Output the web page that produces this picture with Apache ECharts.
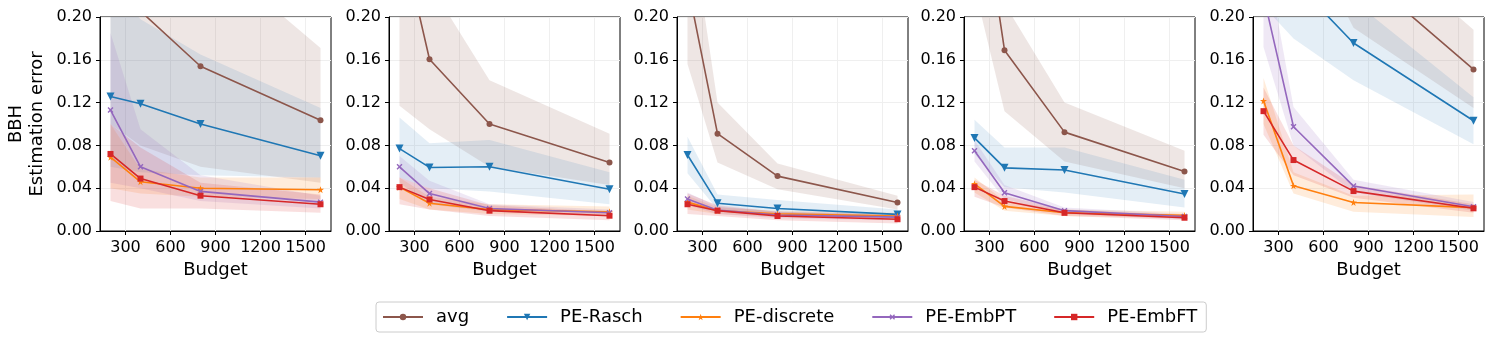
<!DOCTYPE html>
<html lang="en">
<head>
<meta charset="UTF-8">
<title>BBH estimation error vs budget</title>
<script src="https://cdn.jsdelivr.net/npm/echarts@6/dist/echarts.min.js"></script>
<style>
  html, body { margin: 0; padding: 0; background: #fff; }
  #chart { width: 1494px; height: 345px; }
</style>
</head>
<body>
<div id="chart"></div>
<script>
// budgets on the x axis, same for every panel
var budgets = [200, 400, 800, 1600];
var xTicks = [300, 600, 900, 1200, 1500];

// one row per panel (5 panels), one value per budget
var avgMean = [[0.26, 0.2055, 0.154, 0.1036], [0.282, 0.1605, 0.100, 0.064], [0.231, 0.091, 0.0513, 0.0267], [0.357, 0.169, 0.0924, 0.0557], [0.33, 0.29, 0.2475, 0.151]];
var avgLo   = [[0.10, 0.08, 0.06, 0.045], [0.117, 0.095, 0.060, 0.043], [0.156, 0.064, 0.039, 0.020], [0.228, 0.112, 0.065, 0.040], [0.38, 0.30, 0.19, 0.115]];
var avgHi   = [[0.38, 0.33, 0.266, 0.171], [0.45, 0.231, 0.141, 0.091], [0.31, 0.12, 0.063, 0.033], [0.45, 0.2125, 0.12, 0.075], [0.45, 0.40, 0.286, 0.188]];

var raschMean = [[0.1257, 0.119, 0.100, 0.0703], [0.077, 0.0594, 0.060, 0.039], [0.071, 0.026, 0.021, 0.0155], [0.087, 0.059, 0.057, 0.0345], [0.28, 0.234, 0.1757, 0.103]];
var raschLo   = [[0.06, 0.055, 0.052, 0.05], [0.05, 0.04, 0.037, 0.025], [0.054, 0.020, 0.017, 0.012], [0.072, 0.041, 0.036, 0.022], [0.21, 0.18, 0.141, 0.081]];
var raschHi   = [[0.23, 0.198, 0.165, 0.115], [0.106, 0.082, 0.085, 0.055], [0.088, 0.034, 0.029, 0.020], [0.104, 0.078, 0.078, 0.048], [0.33, 0.29, 0.215, 0.125]];

var discMean = [[0.069, 0.046, 0.040, 0.0386], [0.041, 0.026, 0.020, 0.018], [0.027, 0.019, 0.016, 0.014], [0.044, 0.023, 0.017, 0.0146], [0.1216, 0.0423, 0.0267, 0.0218]];
var discLo   = [[0.04, 0.035, 0.032, 0.03], [0.03, 0.02, 0.016, 0.014], [0.02, 0.016, 0.013, 0.011], [0.036, 0.019, 0.014, 0.012], [0.10, 0.035, 0.018, 0.013]];
var discHi   = [[0.10, 0.058, 0.05, 0.05], [0.05, 0.032, 0.025, 0.023], [0.033, 0.022, 0.019, 0.017], [0.05, 0.028, 0.02, 0.018], [0.143, 0.055, 0.033, 0.034]];

var ptMean = [[0.113, 0.060, 0.037, 0.027], [0.060, 0.035, 0.021, 0.017], [0.030, 0.0195, 0.015, 0.013], [0.075, 0.0358, 0.019, 0.0135], [0.220, 0.0974, 0.042, 0.0227]];
var ptLo   = [[0.045, 0.04, 0.028, 0.021], [0.045, 0.025, 0.018, 0.014], [0.024, 0.016, 0.012, 0.010], [0.065, 0.03, 0.016, 0.011], [0.172, 0.08, 0.036, 0.019]];
var ptHi   = [[0.185, 0.095, 0.052, 0.033], [0.07, 0.047, 0.025, 0.02], [0.036, 0.023, 0.018, 0.016], [0.085, 0.043, 0.022, 0.016], [0.27, 0.116, 0.048, 0.027]];

var ftMean = [[0.072, 0.049, 0.033, 0.025], [0.041, 0.0295, 0.019, 0.0143], [0.025, 0.019, 0.014, 0.011], [0.041, 0.028, 0.017, 0.0124], [0.112, 0.0663, 0.0373, 0.0212]];
var ftLo   = [[0.028, 0.021, 0.021, 0.017], [0.025, 0.02, 0.014, 0.01], [0.016, 0.014, 0.01, 0.007], [0.032, 0.022, 0.014, 0.01], [0.09, 0.052, 0.031, 0.017]];
var ftHi   = [[0.10, 0.078, 0.045, 0.034], [0.05, 0.04, 0.024, 0.018], [0.035, 0.024, 0.018, 0.015], [0.048, 0.033, 0.02, 0.015], [0.134, 0.08, 0.043, 0.025]];

var names = ['avg', 'PE-Rasch', 'PE-discrete', 'PE-EmbPT', 'PE-EmbFT'];
var colors = ['#8c564b', '#1f77b4', '#ff7f0e', '#9467bd', '#d62728'];

var means = [avgMean, raschMean, discMean, ptMean, ftMean];
var los = [avgLo, raschLo, discLo, ptLo, ftLo];
var his = [avgHi, raschHi, discHi, ptHi, ftHi];

// marker per series
var crossPath = 'path://M4,0H6V4H10V6H6V10H4V6H0V4H4Z';
var starPath = 'path://M5,0L6.2,3.6L10,3.6L6.9,5.8L8.1,9.5L5,7.2L1.9,9.5L3.1,5.8L0,3.6L3.8,3.6Z';
var symbols = ['circle', 'triangle', starPath, crossPath, 'rect'];
var symSizes = [6, 8, 7, 7, 6];
var symRot = [0, 180, 0, 45, 0];
var bandAlpha = [0.15, 0.12, 0.15, 0.15, 0.15];

var FONT = 'DejaVu Sans';
var gridLeft = [100, 389, 677, 964, 1253];

var grids = [], xAxes = [], yAxes = [], series = [];

// shaded band between lo and hi, drawn as one polygon clipped to the grid
function bandSeries(p, lo, hi, color, alpha) {
    var poly = budgets.map(function (b, i) { return [b, hi[i]]; });
    for (var i = budgets.length - 1; i >= 0; i--) poly.push([budgets[i], lo[i]]);
    return {
        type: 'custom', xAxisIndex: p, yAxisIndex: p, silent: true, z: 2,
        encode: { x: 0, y: 1 },
        data: poly,
        renderItem: function (params, api) {
            if (params.dataIndex !== 0) return;
            var pts = poly.map(function (d) { return api.coord(d); });
            var cs = params.coordSys;
            return {
                type: 'polygon',
                shape: { points: pts },
                style: { fill: color, opacity: alpha },
                clipPath: { type: 'rect', shape: { x: cs.x, y: cs.y, width: cs.width, height: cs.height } }
            };
        }
    };
}

for (var p = 0; p < 5; p++) {
    grids.push({ left: gridLeft[p], top: 17, width: 231, height: 214, show: true, borderColor: '#000', borderWidth: 1 });
    xAxes.push({
        type: 'value', gridIndex: p, min: 130, max: 1670,
        name: 'Budget', nameLocation: 'middle', nameGap: 30,
        nameTextStyle: { fontFamily: FONT, fontSize: 18, color: '#000' },
        axisLine: { show: true, lineStyle: { color: '#000', width: 1 } },
        axisTick: { show: true, length: 4, inside: false, customValues: xTicks, lineStyle: { color: '#000' } },
        axisLabel: { customValues: xTicks, margin: 9, fontFamily: FONT, fontSize: 16, color: '#000', formatter: function (v) { return String(v); } },
        splitLine: { show: true, lineStyle: { color: '#efefef', width: 1 } }
    });
    yAxes.push({
        type: 'value', gridIndex: p, min: 0, max: 0.2, interval: 0.04,
        name: p === 0 ? 'BBH\nEstimation error' : '', nameLocation: 'middle', nameGap: 52, nameRotate: 90,
        nameTextStyle: { fontFamily: FONT, fontSize: 18, color: '#000', lineHeight: 21 },
        axisLine: { show: true, lineStyle: { color: '#000', width: 1 } },
        axisTick: { show: true, length: 4, inside: false, lineStyle: { color: '#000' } },
        axisLabel: { margin: 8, fontFamily: FONT, fontSize: 16, color: '#000', formatter: function (v) { return v.toFixed(2); } },
        splitLine: { show: true, lineStyle: { color: '#efefef', width: 1 } }
    });

    for (var s = 0; s < 5; s++) {
        var mu = means[s][p];
        series.push(bandSeries(p, los[s][p], his[s][p], colors[s], bandAlpha[s]));
        series.push({
            name: names[s], type: 'line', xAxisIndex: p, yAxisIndex: p, z: 3,
            symbol: symbols[s], symbolSize: symSizes[s], symbolRotate: symRot[s], showAllSymbol: true,
            itemStyle: { color: colors[s] },
            lineStyle: { color: colors[s], width: 1.6 },
            data: budgets.map(function (b, i) { return [b, mu[i]]; })
        });
    }
}

var option = {
    backgroundColor: '#fff',
    animation: false,
    grid: grids,
    xAxis: xAxes,
    yAxis: yAxes,
    legend: {
        data: names, left: 376, top: 302, orient: 'horizontal',
        itemWidth: 40, itemHeight: 8, itemGap: 37,
        padding: [6, 9, 6, 6],
        borderColor: '#cccccc', borderWidth: 1, borderRadius: 3,
        textStyle: { fontFamily: FONT, fontSize: 18, color: '#000', padding: [0, 0, 0, 8] }
    },
    series: series
};

echarts.init(document.getElementById('chart')).setOption(option);
</script>
</body>
</html>
